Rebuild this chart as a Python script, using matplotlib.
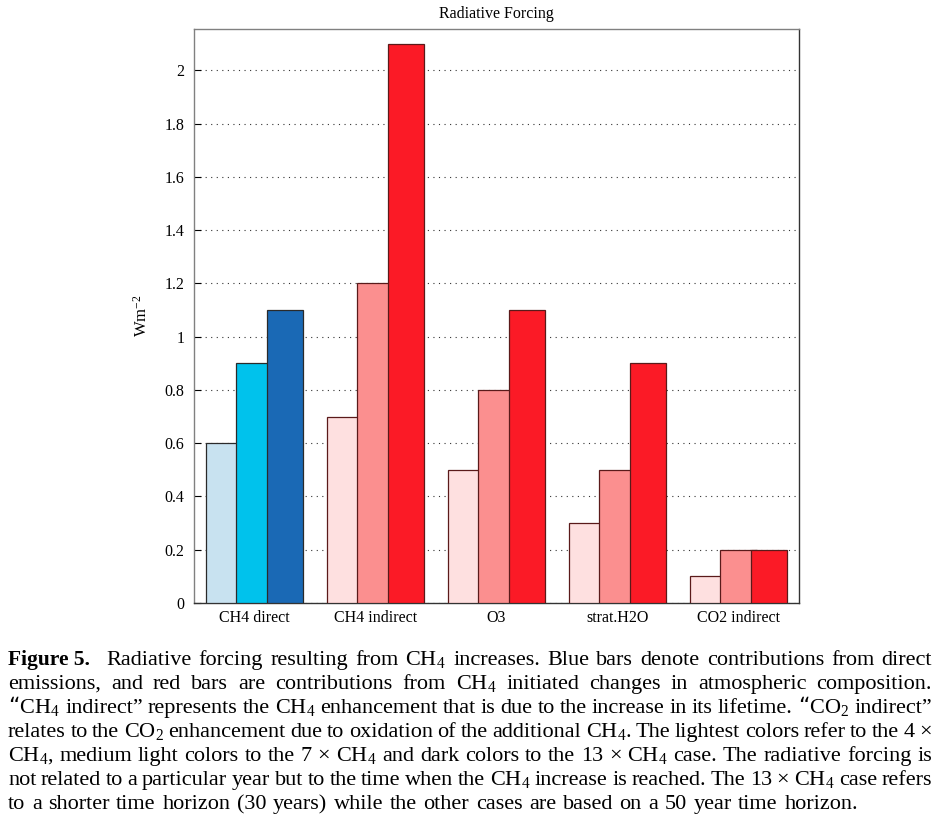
import matplotlib
matplotlib.use("Agg")
import matplotlib.pyplot as plt
import numpy as np

plt.rcParams['font.family'] = ['Liberation Serif', 'DejaVu Serif']
plt.rcParams['mathtext.default'] = 'regular'

categories = ["CH4 direct", "CH4 indirect", "O3", "strat.H2O", "CO2 indirect"]
case_4x = [0.6, 0.7, 0.5, 0.3, 0.1]
case_7x = [0.9, 1.2, 0.8, 0.5, 0.2]
case_13x = [1.1, 2.1, 1.1, 0.9, 0.2]
yticks = [0, 0.2, 0.4, 0.6, 0.8, 1, 1.2, 1.4, 1.6, 1.8, 2]
ytick_labels = ["0", "0.2", "0.4", "0.6", "0.8", "1", "1.2", "1.4", "1.6", "1.8", "2"]

blue_cols = ['#c8e2f0', '#00c2ec', '#1a69b5']
red_cols = ['#fee0e0', '#fb8f8f', '#fb1a26']

fig = plt.figure(figsize=(9.46, 8.3), dpi=100)
ax = fig.add_axes([0.2051, 0.2735, 0.6395, 0.6916])

x = np.arange(1, len(categories) + 1)
series = [case_4x, case_7x, case_13x]
offsets = [-0.25, 0.0, 0.25]
for s, (vals, off) in enumerate(zip(series, offsets)):
    cols = [blue_cols[s]] + [red_cols[s]] * (len(categories) - 1)
    edges = ['#2a2a2a'] + ['#5a1a1a'] * (len(categories) - 1)
    ax.bar(x + off, vals, width=0.3, color=cols, edgecolor=edges, linewidth=0.9, zorder=3)

ax.set_xlim(0.5, 5.5)
ax.set_ylim(0, 2.155)
ax.set_yticks(yticks)
ax.set_yticklabels(ytick_labels, fontsize=11.5)
ax.set_xticks(x)
ax.set_xticklabels(categories, fontsize=11.5)
ax.tick_params(axis='y', direction='in', length=5, width=0.8, right=False, pad=7)
ax.tick_params(axis='x', length=0, pad=5)
ax.yaxis.grid(True, linestyle=(0, (1, 4)), color='#333333', linewidth=0.8, zorder=0)
ax.set_axisbelow(True)
for side in ['left', 'top']:
    ax.spines[side].set_color('#808080')
for side in ['right', 'bottom']:
    ax.spines[side].set_color('#333333')
for sp in ax.spines.values():
    sp.set_linewidth(1.0)
ax.set_title("Radiative Forcing", fontsize=11.5, pad=8)
ax.set_ylabel("Wm$^{-2}$", fontsize=12, labelpad=10)

# caption, justified
lines = [
    [("Figure 5.", 'bold'), "Radiative forcing resulting from CH$_4$ increases. Blue bars denote contributions from direct"],
    ["emissions, and red bars are contributions from CH$_4$ initiated changes in atmospheric composition."],
    ["\u201cCH$_4$ indirect\u201d represents the CH$_4$ enhancement that is due to the increase in its lifetime. \u201cCO$_2$ indirect\u201d"],
    ["relates to the CO$_2$ enhancement due to oxidation of the additional CH$_4$. The lightest colors refer to the 4 \u00d7"],
    ["CH$_4$, medium light colors to the 7 \u00d7 CH$_4$ and dark colors to the 13 \u00d7 CH$_4$ case. The radiative forcing is"],
    ["not related to a particular year but to the time when the CH$_4$ increase is reached. The 13 \u00d7 CH$_4$ case refers"],
    ["to a shorter time horizon (30 years) while the other cases are based on a 50 year time horizon."],
]
fs = 16.0
fs_bold = 15.5
x0, x1 = 8, 932
x1_last = 858
W, H = 946, 830
baselines = [665, 689, 713, 737, 761, 785, 809]
renderer = fig.canvas.get_renderer()
for li, (parts, yb) in enumerate(zip(lines, baselines)):
    words = []
    for p in parts:
        if isinstance(p, tuple):
            words.append((p[0], p[1], True))
        else:
            for w in p.split(' '):
                words.append((w, 'normal', False))
    texts = []
    widths = []
    for w, wt, isb in words:
        t = fig.text(0, 1 - yb / H, w, fontsize=fs_bold if isb else fs,
                     fontweight=wt, va='baseline', ha='left')
        bb = t.get_window_extent(renderer)
        texts.append(t)
        widths.append(bb.width)
    total = sum(widths)
    ngaps = len(words) - 1
    right = x1_last if li == len(lines) - 1 else x1
    extra_bold = 9
    nb = sum(1 for w in words if w[2])
    gap = (right - x0 - total - extra_bold * nb) / ngaps
    xp = x0
    for i, t in enumerate(texts):
        t.set_x(xp / W)
        extra = gap + (extra_bold if words[i][2] else 0)
        xp += widths[i] + extra

fig.savefig("out.png", dpi=100)
